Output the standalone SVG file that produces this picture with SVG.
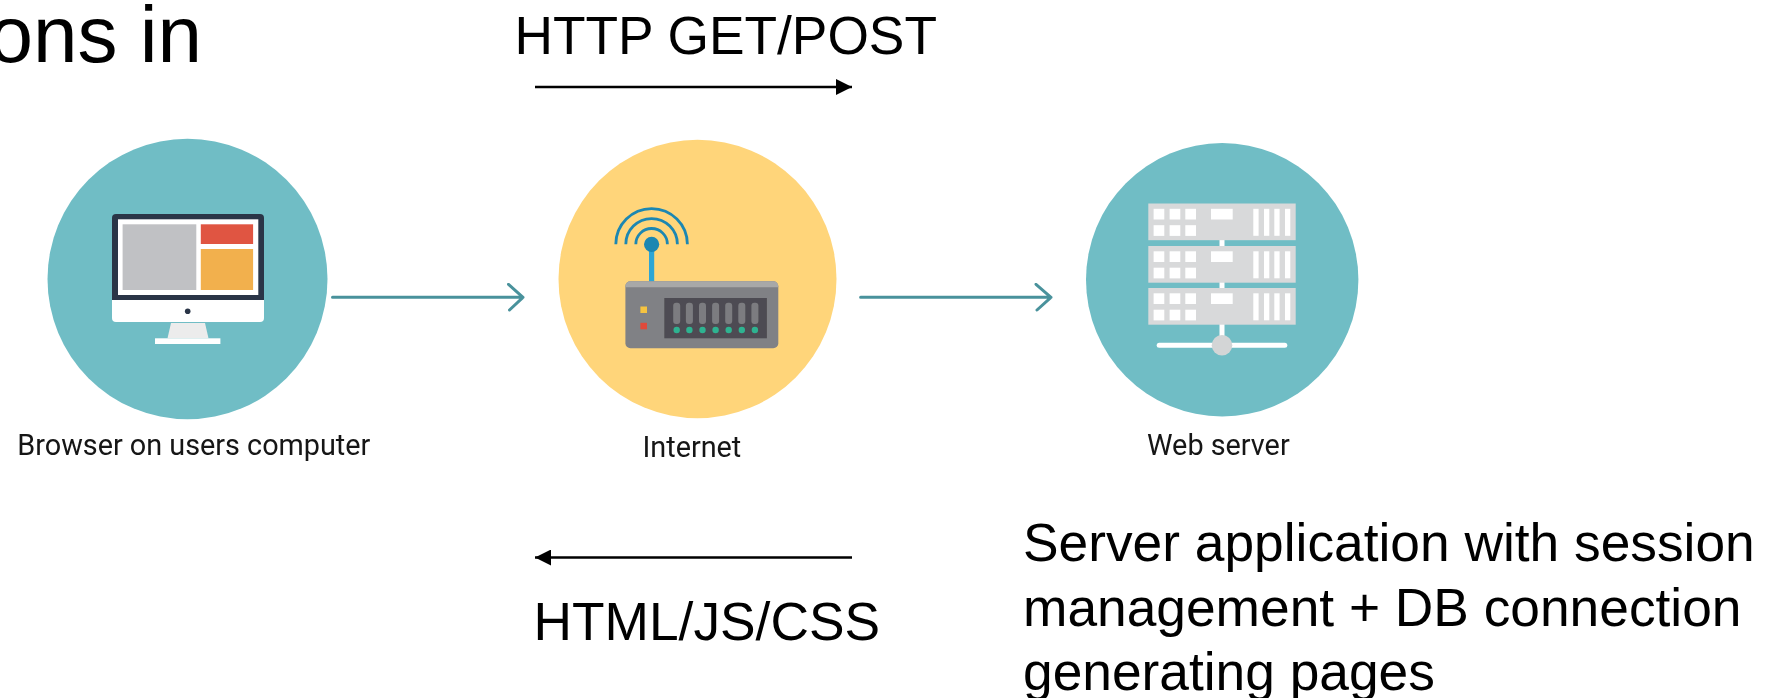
<svg xmlns="http://www.w3.org/2000/svg" width="1780" height="698" viewBox="0 0 1780 698">
<style>
.a{font-family:"Liberation Sans",Arial,sans-serif;font-size:53.3px;fill:#000}
.t{font-size:80px}
.r{font-family:Roboto,"Noto Sans",sans-serif;font-size:28.8px;fill:#141414}
.teal{fill:#6fbdc5}
.c{fill:none;stroke:#4a929c;stroke-width:3;stroke-linecap:round;stroke-linejoin:round}
.k{fill:none;stroke:#000;stroke-width:2.6}
.w{fill:#fff}
.g{fill:#d8d9da}
.arc{fill:none;stroke:#1c87b2;stroke-width:2.8}
.slot{fill:#7b7c80}
.led{fill:#2fb391}
.soft{filter:url(#soft)}
</style>
<defs>
<filter id="soft" x="-5%" y="-5%" width="110%" height="110%"><feGaussianBlur stdDeviation="0.5"/></filter>
<marker id="tip" markerUnits="userSpaceOnUse" markerWidth="16" markerHeight="16" refX="16" refY="8" orient="auto"><path d="M0 0L16 8L0 16Z" fill="#000"/></marker>
<g id="rack">
<rect x="0" y="0" width="147.4" height="36.7" class="g"/>
<g class="w">
<rect x="5.3" y="5.3" width="10.7" height="10.7"/><rect x="21.3" y="5.3" width="10.7" height="10.7"/><rect x="37" y="5.3" width="10.7" height="10.7"/>
<rect x="5.3" y="21.7" width="10.7" height="10.7"/><rect x="21.3" y="21.7" width="10.7" height="10.7"/><rect x="37" y="21.7" width="10.7" height="10.7"/>
<rect x="62.7" y="5.3" width="21.7" height="10.7"/>
<rect x="105" y="5.3" width="5.3" height="27"/><rect x="115.7" y="5.3" width="5.3" height="27"/><rect x="126" y="5.3" width="5.3" height="27"/><rect x="136.7" y="5.3" width="5.3" height="27"/>
</g>
</g>
</defs>
<rect width="1780" height="698" fill="#fff"/>
<g id="connectors">
<path class="c soft" d="M332.5 297.3H523M508.5 284.3L523 297.3L509.5 310"/>
<path class="c soft" d="M860.6 297.3H1051M1036 284.3L1051 297.3L1037 310"/>
<line class="k" x1="535" y1="87" x2="852" y2="87" marker-end="url(#tip)"/>
<line class="k" x1="852" y1="557.5" x2="535" y2="557.5" marker-end="url(#tip)"/>
</g>
<g id="title"><text class="a t" x="-11.5" y="61.7">ons in</text></g>
<g id="label-http"><text class="a" x="514.5" y="53.5">HTTP GET/POST</text></g>
<g id="label-html"><text class="a" x="533.5" y="639.5">HTML/JS/CSS</text></g>
<g id="label-server"><text class="a" x="1023" y="561">Server application with session</text><text class="a" x="1023" y="626">management + DB connection</text><text class="a" x="1023" y="690">generating pages</text></g>
<g id="browser" class="soft">
<ellipse class="teal" cx="187.5" cy="279" rx="140" ry="140.3"/>
<path d="M112 300V218a4 4 0 0 1 4-4H260a4 4 0 0 1 4 4V300Z" fill="#2a3547"/>
<path d="M112 300H264V318a4 4 0 0 1-4 4H116a4 4 0 0 1-4-4Z" class="w"/>
<rect x="118" y="219.3" width="140.3" height="75.7" class="w"/>
<rect x="122.6" y="224.3" width="73.7" height="65.7" fill="#c0c1c4"/>
<rect x="200.8" y="224.3" width="52.3" height="19.7" fill="#e05443"/>
<rect x="200.8" y="249" width="52.3" height="41" fill="#f2b04e"/>
<circle cx="187.7" cy="311.3" r="2.8" fill="#2a3547"/>
<path d="M171 323H205L208.5 338.3H167.5Z" fill="#ececec"/>
<rect x="155" y="338.3" width="65.4" height="5.7" class="w"/>
<text class="r" x="17.3" y="455">Browser on users computer</text>
</g>
<g id="internet" class="soft">
<ellipse cx="697.5" cy="279" rx="139" ry="139.2" fill="#ffd57a"/>
<path class="arc" d="M615.8 244.3a35.8 35.8 0 0 1 71.6 0M625.8 244.3a25.8 25.8 0 0 1 51.6 0M635.8 244.3a15.8 15.8 0 0 1 31.6 0"/>
<rect x="649" y="250" width="5.2" height="32" fill="#2ea6d5"/>
<circle cx="651.6" cy="244.3" r="7.6" fill="#1c87b2"/>
<rect x="625.4" y="281.3" width="152.9" height="67" rx="5" fill="#808185"/>
<path d="M625.4 287.3v-1a5 5 0 0 1 5-5H773.3a5 5 0 0 1 5 5v1Z" fill="#a8a8a8"/>
<rect x="664.3" y="298" width="102.6" height="40.3" fill="#4e4c52"/>
<g class="slot"><rect x="673.2" y="302.7" width="7" height="21.3" rx="3"/><rect x="685.9" y="302.7" width="7" height="21.3" rx="3"/><rect x="699" y="302.7" width="7" height="21.3" rx="3"/><rect x="712.1" y="302.7" width="7" height="21.3" rx="3"/><rect x="725.2" y="302.7" width="7" height="21.3" rx="3"/><rect x="738.3" y="302.7" width="7" height="21.3" rx="3"/><rect x="751.4" y="302.7" width="7" height="21.3" rx="3"/></g>
<g class="led"><circle cx="676.7" cy="330" r="3.2"/><circle cx="689.4" cy="330" r="3.2"/><circle cx="702.5" cy="330" r="3.2"/><circle cx="715.6" cy="330" r="3.2"/><circle cx="728.7" cy="330" r="3.2"/><circle cx="741.8" cy="330" r="3.2"/><circle cx="754.9" cy="330" r="3.2"/></g>
<rect x="640.4" y="306.5" width="6.6" height="6.5" fill="#f5c33f"/>
<rect x="640.4" y="322.8" width="6.6" height="6.5" fill="#e0493a"/>
<text class="r" x="642.5" y="456.5">Internet</text>
</g>
<g id="webserver" class="soft">
<ellipse class="teal" cx="1222.2" cy="279.8" rx="136.2" ry="136.7"/>
<rect x="1219.5" y="239" width="5" height="8" class="w"/>
<rect x="1219.5" y="282" width="5" height="7" class="w"/>
<rect x="1219.5" y="324" width="5" height="14" class="w"/>
<use href="#rack" x="1148.3" y="203.5"/>
<use href="#rack" x="1148.3" y="246"/>
<use href="#rack" x="1148.3" y="288"/>
<rect x="1156.7" y="342.8" width="130.6" height="5" rx="2.5" class="w"/>
<circle cx="1222" cy="345.3" r="10.3" fill="#d3d5d6"/>
<text class="r" x="1147" y="455">Web server</text>
</g>
</svg>
